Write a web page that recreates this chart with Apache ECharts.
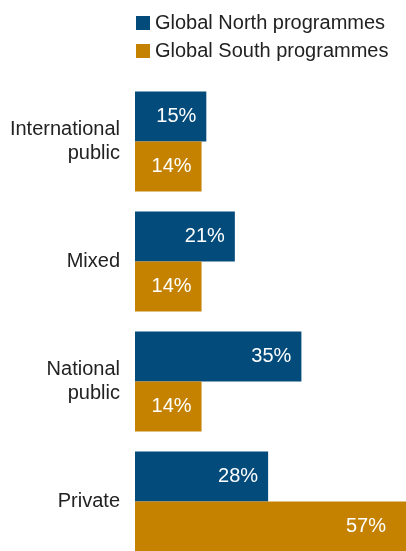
<!DOCTYPE html>
<html><head><meta charset="utf-8">
<script src="https://cdn.jsdelivr.net/npm/echarts@6/dist/echarts.min.js"></script>
<style>html,body{margin:0;padding:0;background:#fff}#c{width:406px;height:551px}</style>
</head><body><div id="c"></div>
<script>
const categories = ['International\npublic', 'Mixed', 'National\npublic', 'Private'];
const seriesNames = ['Global North programmes', 'Global South programmes'];
const northValues = [15, 21, 35, 28];
const southValues = [14, 14, 14, 57];
const colors = ['#034b7b', '#c58200'];
const FONT = '"Liberation Sans", Arial, sans-serif';

const chart = echarts.init(document.getElementById('c'), null, {renderer: 'canvas'});
function mkSeries(name, vals, color) {
  return {
    name: name, type: 'bar', barWidth: 50, barGap: '0%',
    itemStyle: {color: color},
    label: {show: true, position: 'insideRight', distance: 10, color: '#fff',
      fontSize: 20, fontFamily: FONT, formatter: p => p.value + '%'},
    data: vals.map(v => v > 50 ? {value: v, label: {distance: 20}} : v)
  };
}
chart.setOption({
  animation: false,
  legend: {
    orient: 'vertical', left: 131, top: 8, itemWidth: 14, itemHeight: 14, itemGap: 8,
    icon: 'rect',
    textStyle: {fontSize: 20, fontFamily: FONT, color: '#222'},
    data: seriesNames
  },
  grid: {left: 135, right: 0, top: 81.5, height: 480, containLabel: false, outerBoundsMode: 'none'},
  xAxis: {type: 'value', min: 0, max: 57, show: false},
  yAxis: {
    type: 'category', inverse: true, data: categories,
    axisLine: {show: false}, axisTick: {show: false},
    axisLabel: {fontSize: 20, fontFamily: FONT, color: '#222', margin: 15, lineHeight: 24, align: 'right', padding: [8, 0, 0, 0]}
  },
  series: [mkSeries(seriesNames[0], northValues, colors[0]), mkSeries(seriesNames[1], southValues, colors[1])]
});
</script></body></html>
